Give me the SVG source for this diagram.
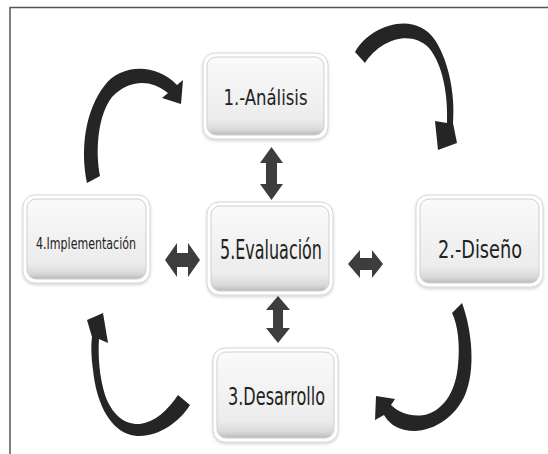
<svg xmlns="http://www.w3.org/2000/svg" width="548" height="454" viewBox="0 0 548 454">
<defs>
<linearGradient id="boxg" x1="0" y1="0" x2="0" y2="1">
<stop offset="0" stop-color="#fafafa"/>
<stop offset="0.8" stop-color="#ececec"/>
<stop offset="0.93" stop-color="#d9d9d9"/>
<stop offset="1" stop-color="#b9b9b9"/>
</linearGradient>
<filter id="sh" x="-10%" y="-10%" width="120%" height="130%">
<feDropShadow dx="0" dy="1.5" stdDeviation="1.5" flood-color="#000" flood-opacity="0.18"/>
</filter>
</defs>
<style>
.halo{fill:#fff;stroke:#d4d4d4;stroke-width:1;filter:url(#sh)}
.inner{fill:url(#boxg);stroke:#cfcfcf;stroke-width:1}
.lbl{font-family:"DejaVu Sans Condensed","DejaVu Sans",sans-serif;font-stretch:condensed;fill:#222;text-anchor:middle}
.curve{fill:#252525}
.dbl{fill:#3d3d3d}
.frame{stroke:#555;stroke-width:1.5;fill:none}
</style>
<rect width="548" height="454" fill="#fff"/>
<path class="frame" d="M10 454 V7.5 H548"/>

<g id="connectors">
<path class="curve" d="M355 52 C370 25 415 10 435 40 C451 65 455 100 453 123 L457 143 L438 150 L435 121 L447 123 C448 95 443 65 429 48 C410 29 380 40 365 63 Z"/>
<path class="curve" d="M87 183 C80 150 85 110 105 85 C120 65 155 62 177 85 L183 80 L181 104 L162 98 L168 93 C150 78 128 80 112 97 C98 115 95 150 100 176 Z"/>
<path class="curve" d="M190 405 C178 425 150 442 128 434 C108 427 96 400 93 370 C91 355 91 345 92 337 L87 320 L103 313 L108 343 L99 339 C98 355 99 375 105 395 C112 415 125 425 140 424 C155 422 168 410 178 395 Z"/>
<path class="curve" d="M462 303 C472 330 476 370 465 395 C455 418 430 435 405 430 C395 428 388 422 384 415 L375 420 L376 396 L395 399 L391 405 C400 414 415 418 428 414 C445 408 456 390 458 365 C460 345 458 325 452 313 Z"/>
<polygon class="dbl" points="271.5,147 283,163 277,163 277,184 283,184 271.5,200 260,184 266,184 266,163 260,163"/>
<polygon class="dbl" points="278,296 290,310 283,310 283,328 290,328 278,343 266,328 273,328 273,310 266,310"/>
<polygon class="dbl" points="165,260 177,243 177,253 188,253 188,243 200,260 188,277 188,267 177,267 177,277"/>
<polygon class="dbl" points="348,264 360,250 360,258 372,258 372,250 383,264 372,278 372,270 360,270 360,278"/>
</g>

<g id="analisis">
<rect class="halo" x="203" y="53" width="125" height="86" rx="12"/>
<rect class="inner" x="207" y="57" width="117" height="78" rx="9"/>
<text class="lbl" x="265.5" y="105" font-size="22" textLength="84" lengthAdjust="spacingAndGlyphs">1.-Análisis</text>
</g>

<g id="implementacion">
<rect class="halo" x="23" y="195" width="127" height="88" rx="12"/>
<rect class="inner" x="27" y="199" width="119" height="80" rx="9"/>
<text class="lbl" x="86" y="249" font-size="15" textLength="100" lengthAdjust="spacingAndGlyphs">4.Implementación</text>
</g>

<g id="evaluacion">
<rect class="halo" x="207" y="202" width="126" height="93" rx="12"/>
<rect class="inner" x="211" y="206" width="118" height="85" rx="9"/>
<text class="lbl" x="271" y="259" font-size="26" textLength="102" lengthAdjust="spacingAndGlyphs">5.Evaluación</text>
</g>

<g id="diseno">
<rect class="halo" x="416" y="195" width="127" height="92" rx="12"/>
<rect class="inner" x="420" y="199" width="119" height="84" rx="9"/>
<text class="lbl" x="480" y="258" font-size="25" textLength="84" lengthAdjust="spacingAndGlyphs">2.-Diseño</text>
</g>

<g id="desarrollo">
<rect class="halo" x="213" y="348" width="125" height="94" rx="12"/>
<rect class="inner" x="217" y="352" width="117" height="86" rx="9"/>
<text class="lbl" x="276.5" y="405" font-size="24" textLength="97" lengthAdjust="spacingAndGlyphs">3.Desarrollo</text>
</g>
</svg>
